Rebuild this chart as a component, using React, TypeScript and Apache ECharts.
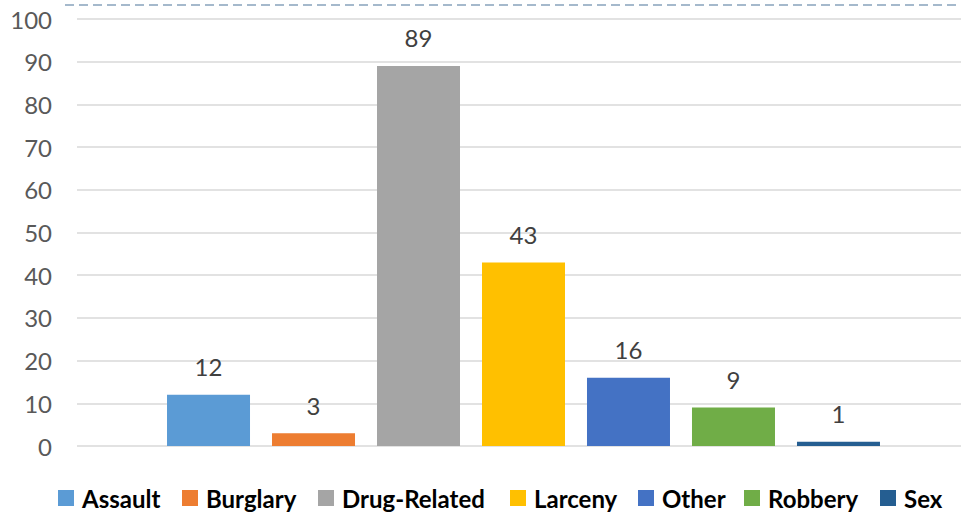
import React, { useEffect, useRef } from "react";
import * as echarts from "echarts";

const categories = [""];
const seriesNames = ["Assault", "Burglary", "Drug-Related", "Larceny", "Other", "Robbery", "Sex"];
const seriesValues = [12, 3, 89, 43, 16, 9, 1];
const seriesColors = ["#5B9BD5", "#ED7D31", "#A5A5A5", "#FFC000", "#4472C4", "#70AD47", "#255E91"];
const legendLefts = [58, 182, 318, 510, 638, 744, 880];
const yTicks = { min: 0, max: 100, interval: 10 };

const FONT = "Lato";

export default function App() {
  const ref = useRef<HTMLDivElement>(null);
  useEffect(() => {
    if (!ref.current) return;
    const chart = echarts.init(ref.current, null, { renderer: "svg" });
    chart.setOption({
      animation: false,
      backgroundColor: "#ffffff",
      grid: [
        { left: 77, top: 19, right: 0, height: 427, containLabel: false },
        { left: 86, top: 19, width: 875, height: 427, containLabel: false },
      ],
      xAxis: [
        {
          gridIndex: 0,
          type: "category",
          data: categories,
          axisLine: { show: false },
          axisTick: { show: false },
          axisLabel: { show: false },
        },
        {
          gridIndex: 1,
          type: "category",
          data: categories,
          axisLine: { show: false },
          axisTick: { show: false },
          axisLabel: { show: false },
        },
      ],
      yAxis: [
        {
          gridIndex: 0,
          type: "value",
          min: yTicks.min,
          max: yTicks.max,
          interval: yTicks.interval,
          axisLine: { show: false },
          axisTick: { show: false },
          axisLabel: { color: "#595959", fontSize: 24, fontFamily: FONT, margin: 25 },
          splitLine: { lineStyle: { color: "#d9d9d9", width: 1.5 } },
        },
        {
          gridIndex: 1,
          type: "value",
          min: yTicks.min,
          max: yTicks.max,
          interval: yTicks.interval,
          show: false,
          splitLine: { show: false },
        },
      ],
      legend: seriesNames.map((name, i) => ({
        left: legendLefts[i],
        top: 486,
        padding: 0,
        itemWidth: 16,
        itemHeight: 16,
        icon: "rect",
        textStyle: {
          color: "#000",
          fontSize: 24,
          lineHeight: 24,
          fontWeight: "bold",
          fontFamily: FONT,
          padding: [0, 0, 0, 3],
        },
        data: [name],
      })),
      graphic: [
        {
          type: "line",
          shape: { x1: 65, y1: 5, x2: 961, y2: 5 },
          style: { stroke: "#a5b9cc", lineWidth: 2, lineDash: [9, 5] },
          silent: true,
        },
      ],
      series: seriesNames.map((name, i) => ({
        name,
        type: "bar",
        xAxisIndex: 1,
        yAxisIndex: 1,
        data: [seriesValues[i]],
        barWidth: 83,
        barGap: "26.5%",
        itemStyle: { color: seriesColors[i] },
        label: {
          show: true,
          position: "top",
          distance: 16,
          color: "#404040",
          fontSize: 24,
          fontFamily: FONT,
        },
      })),
    });
    return () => chart.dispose();
  }, []);
  return (
    <div
      ref={ref}
      style={{ position: "fixed", left: 0, top: 0, width: 961, height: 514 }}
    />
  );
}
